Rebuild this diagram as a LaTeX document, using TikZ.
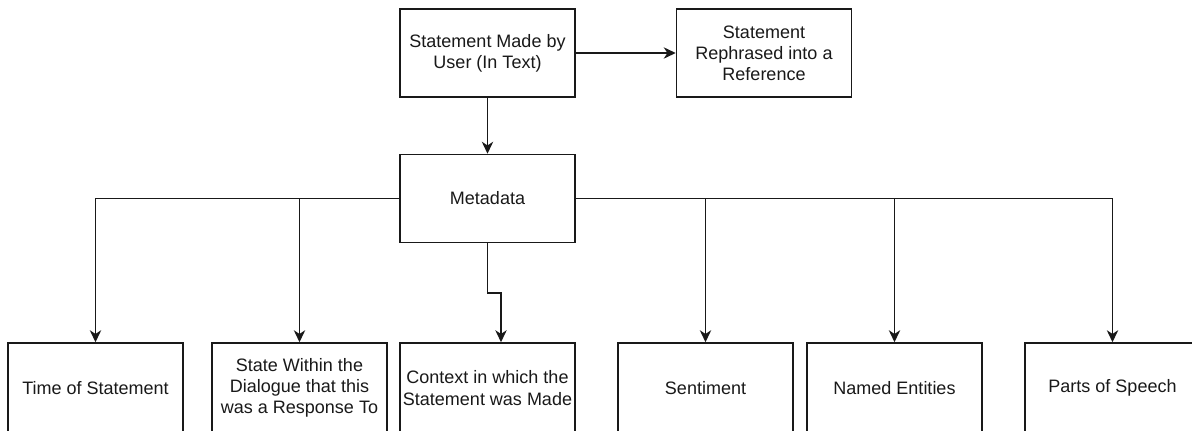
\documentclass[tikz,border=0pt]{standalone}
\usepackage{fontspec}
\setmainfont{Liberation Sans}
\usetikzlibrary{arrows.meta}
\begin{document}
\begin{tikzpicture}[x=0.75pt, y=-0.75pt,
  stepbox/.style={draw=black!90, line width=1.15pt, fill=white,
    minimum width=131.25pt, minimum height=66pt, inner sep=2pt,
    align=center, text=black!90,
    font=\fontsize{13.5}{15.9}\selectfont},
  leafbox/.style={stepbox, minimum height=67.5pt},
  link/.style={draw=black!90, line width=1.15pt},
  arr/.style={link, -{Stealth[length=9pt, width=8.5pt, inset=2.8pt]}}]
  \useasboundingbox (0,0) rectangle (1192,430);
  \begin{scope}
  \clip (0,0) rectangle (1192,430);

  % top row
  \node[stepbox] (user) at (487.5,53) {Statement Made by\\User (In Text)};
  \node[stepbox] (ref) at (764,53) {Statement\\Rephrased into a\\Reference};

  % metadata hub
  \node[stepbox] (meta) at (487.5,198.5) {Metadata};

  % metadata items (running past the lower edge)
  \node[leafbox] (time) at (95.5,388) {Time of Statement};
  \node[leafbox] (state) at (299.5,388) {State Within the\\Dialogue that this\\was a Response To};
  \node[leafbox] (ctx) at (487.5,388) {Context in which the\\Statement was Made};
  \node[leafbox] (sent) at (705.5,388) {Sentiment};
  \node[leafbox] (ents) at (894.5,388) {Named Entities};
  \node[leafbox] (pos) at (1112.5,388) {Parts of Speech};

  % connectors
  \draw[arr] (user.south) -- (meta.north);
  \draw[arr] (user.east) -- (ref.west);
  \draw[arr] (meta.west) -| (time.north);
  \draw[arr] (meta.west) -| (state.north);
  \coordinate (k1) at (487.5,293);
  \coordinate (k2) at (501,293);
  \draw[arr] (meta.south) -- (k1) -- (k2) -- (k2 |- ctx.north);
  \draw[arr] (meta.east) -| (sent.north);
  \draw[arr] (meta.east) -| (ents.north);
  \draw[arr] (meta.east) -| (pos.north);
  \end{scope}
\end{tikzpicture}
\end{document}
